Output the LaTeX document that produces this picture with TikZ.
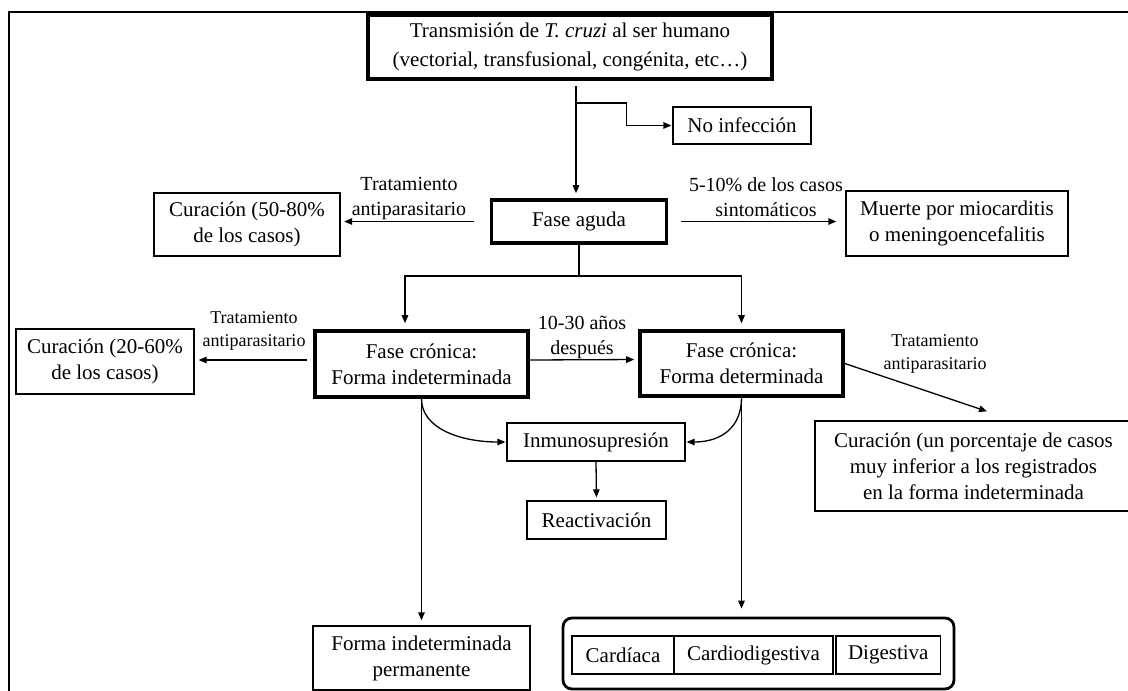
\documentclass[tikz,border=0pt]{standalone}
\usepackage{fontspec}
\setmainfont{Liberation Serif}
\usetikzlibrary{arrows.meta}

\begin{document}
\begin{tikzpicture}[x=1pt,y=-1pt,line width=1.3pt,>={Triangle[length=8pt,width=6.5pt]},
  box/.style={draw,line width=1.3pt,inner sep=0pt,align=center,font=\fontsize{21}{26}\selectfont},
  fase/.style={box,line width=3.6pt},
  lab/.style={inner sep=0pt,align=center,font=\fontsize{20}{25}\selectfont},
  labs/.style={lab,font=\fontsize{18}{23}\selectfont}]
  \useasboundingbox (0,0) rectangle (1128,691);
  \clip (0,0) rectangle (1128,691);
  \draw[line width=1.8pt] (1140,12) -- (8.6,12) -- (8.6,700);

  \node[fase,minimum width=404,minimum height=64,font=\fontsize{21}{29}\selectfont] (trans) at (570,47)
    {Transmisión de \textit{T. cruzi} al ser humano\\(vectorial, transfusional, congénita, etc…)};
  \node[box,minimum width=138,minimum height=37] (noinf) at (742,125.5) {No infección};
  \node[fase,minimum width=175,minimum height=43] (aguda) at (579,221.5) {Fase aguda};
  \node[box,minimum width=186,minimum height=63] (cur1) at (247,224.5) {Curación (50-80\%\\de los casos)};
  \node[box,minimum width=222,minimum height=65] (muerte) at (957,223.5) {Muerte por miocarditis\\o meningoencefalitis};
  \node[fase,minimum width=213,minimum height=66] (indet) at (421.5,364) {Fase crónica:\\Forma indeterminada};
  \node[box,minimum width=178,minimum height=65] (cur2) at (105,361.5) {Curación (20-60\%\\de los casos)};
  \node[fase,minimum width=203,minimum height=65] (deter) at (741.5,363.5) {Fase crónica:\\Forma determinada};
  \node[box,minimum width=317,minimum height=90] (cur3) at (973.5,466)
    {Curación (un porcentaje de casos\\muy inferior a los registrados\\en la forma indeterminada};
  \node[box,minimum width=178,minimum height=38] (inmuno) at (596,442) {Inmunosupresión};
  \node[box,minimum width=139,minimum height=38] (react) at (596.5,520) {Reactivación};
  \node[box,minimum width=217,minimum height=64] (perm) at (421.5,658) {Forma indeterminada\\permanente};
  \node[draw,line width=2.8pt,rounded corners=9pt,minimum width=391,minimum height=71] (clin) at (758.5,653.5) {};
  \foreach \cx/\cw/\ctext/\cname in {623/102/Cardíaca/card,753.5/159/Cardiodigestiva/cardig,888.3/104.6/Digestiva/dig} {
    \node[box,minimum width=\cw,minimum height=38] (\cname) at (\cx,655) {\ctext};
  }

  \node[lab] (l1) at (409,198.5) {Tratamiento\\antiparasitario};
  \node[lab] (l2) at (766,197.5) {5-10\% de los casos\\sintomáticos};
  \node[labs] (l3) at (254,330.5) {Tratamiento\\antiparasitario};
  \node[lab] (l4) at (582,337.5) {10-30 años\\después};
  \node[labs] (l5) at (935,354) {Tratamiento\\antiparasitario};

  \coordinate (t0) at (576,86);
  \coordinate (t1) at (576,103);
  \coordinate (a0) at (579,276);
  \draw[->,shorten >=5pt] (t0) -- (t0 |- aguda.north);
  \draw[->,shorten >=1pt] (t1) -| ([xshift=-46]noinf.west) -- (noinf.west);
  \draw[->,shorten <=16pt,shorten >=3.5pt] (aguda.west) -- (aguda.west -| cur1.east);
  \draw[->,shorten <=12.5pt,shorten >=9pt] (aguda.east) -- (aguda.east -| muerte.west);
  \draw (aguda.south) -- (a0);
  \draw[->,shorten >=6pt] (a0) -| ([xshift=-16.5]indet.north);
  \draw[->,shorten >=6pt] (a0) -| (deter.north);
  \draw[->,shorten <=6pt,shorten >=4pt] ([yshift=4]indet.west) -- ([yshift=4]indet.west -| cur2.east);
  \draw[->,shorten >=4pt] ([yshift=4]indet.east) -- ([yshift=4]deter.west);
  \draw[->] (deter.east) -- ([xshift=13.5,yshift=9]cur3.north);
  \draw[->,shorten >=1pt] (indet.south) .. controls +(0,30) and +(-45,0) .. (inmuno.west);
  \draw[->,shorten >=1pt] (deter.south) .. controls +(0,30) and +(35,0) .. (inmuno.east);
  \draw[->,shorten >=5pt] (indet.south) -- (perm.north);
  \draw[->,shorten >=8pt] (deter.south) -- (deter.south |- clin.north);
  \draw[->,shorten >=3pt] (inmuno.south) -- (react.north);
\end{tikzpicture}
\end{document}
